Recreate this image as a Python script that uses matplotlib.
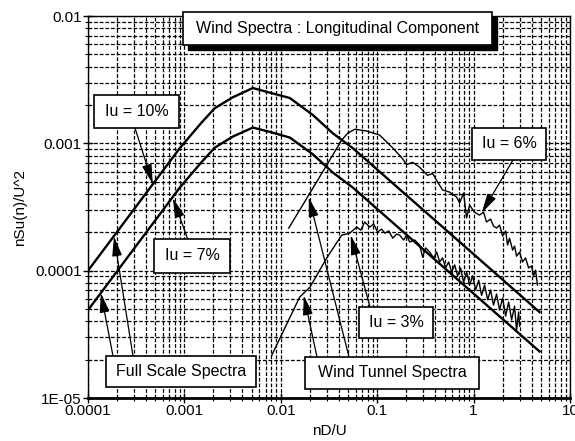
import matplotlib
matplotlib.use("Agg")
import matplotlib.pyplot as plt
from matplotlib.patches import Rectangle

plt.rcParams['font.family'] = ['Liberation Sans', 'DejaVu Sans']

# full scale spectra (smooth curves), Iu = 10% and Iu = 7%
fs_freq = [1.0e-4, 8.97e-4, 1.5e-3, 2.07e-3, 3.18e-3, 5.13e-3, 7.69e-3, 0.0124, 0.0215, 0.0346, 0.0557, 4.83]
fs_iu10 = [1.0e-4, 9.18e-4, 1.45e-3, 1.89e-3, 2.3e-3, 2.72e-3, 2.5e-3, 2.27e-3, 1.67e-3, 1.2e-3, 9.18e-4, 4.73e-5]
fs_iu7 = [4.9e-5, 4.5e-4, 7.1e-4, 9.26e-4, 1.13e-3, 1.33e-3, 1.23e-3, 1.11e-3, 8.2e-4, 5.9e-4, 4.5e-4, 2.32e-5]

# wind tunnel spectra, Iu = 6%
wt6_freq = [0.0121, 0.0225, 0.0428, 0.0494, 0.0585, 0.0778, 0.106, 0.145, 0.18, 0.202,
            0.233, 0.275, 0.333, 0.376, 0.423, 0.477, 0.564, 0.667, 0.716, 0.787,
            0.846, 0.91, 1.02, 1.15, 1.27, 1.36, 1.5, 1.61, 1.73, 1.86,
            2.0, 2.15, 2.25, 2.36, 2.54, 2.66, 2.79, 3.0, 3.22, 3.46,
            3.72, 3.99, 4.19, 4.39, 4.6]
wt6_val = [2.16e-4, 4.7e-4, 1.06e-3, 1.2e-3, 1.29e-3, 1.25e-3, 1.16e-3, 9.2e-4, 7.7e-4, 6.8e-4,
           7.1e-4, 6.5e-4, 5.6e-4, 5.8e-4, 4.97e-4, 4.3e-4, 4.14e-4, 3.78e-4, 3.4e-4, 4.07e-4,
           2.6e-4, 3.27e-4, 2.88e-4, 2.73e-4, 2.88e-4, 2.41e-4, 2.54e-4, 2.24e-4, 2.16e-4, 2.28e-4,
           1.87e-4, 2.05e-4, 1.59e-4, 1.8e-4, 1.45e-4, 1.56e-4, 1.3e-4, 1.4e-4, 1.17e-4, 1.26e-4,
           1.05e-4, 1.09e-4, 9.1e-5, 1.01e-4, 7.7e-5]

# wind tunnel spectra, Iu = 3%
wt3_freq = [8.07e-3, 0.0157, 0.02, 0.03, 0.0428, 0.0519, 0.0613, 0.0675, 0.0742, 0.0836,
            0.092, 0.101, 0.111, 0.12, 0.132, 0.145, 0.159, 0.171, 0.188, 0.202,
            0.217, 0.245, 0.275, 0.296, 0.318, 0.35, 0.385, 0.414, 0.445, 0.477,
            0.513, 0.551, 0.592, 0.636, 0.683, 0.733, 0.787, 0.846, 0.91, 0.977,
            1.05, 1.13, 1.21, 1.3, 1.4, 1.5, 1.61, 1.73, 1.86, 2.0,
            2.15, 2.31, 2.48, 2.66, 2.79, 2.93, 3.0]
wt3_val = [2.17e-5, 6.2e-5, 7.4e-5, 1.26e-4, 1.9e-4, 1.97e-4, 2.2e-4, 2.08e-4, 2.41e-4, 2.2e-4,
           2.32e-4, 2.01e-4, 2.12e-4, 1.97e-4, 2.05e-4, 1.8e-4, 1.94e-4, 1.9e-4, 1.74e-4, 1.9e-4,
           1.68e-4, 1.74e-4, 1.59e-4, 1.28e-4, 1.51e-4, 1.4e-4, 1.26e-4, 1.4e-4, 1.17e-4, 1.26e-4,
           1.05e-4, 1.17e-4, 9.75e-5, 1.11e-4, 9.1e-5, 1.05e-4, 8.1e-5, 9.75e-5, 7.7e-5, 9.1e-5,
           7.05e-5, 8.4e-5, 6.4e-5, 7.7e-5, 5.9e-5, 7.05e-5, 5.37e-5, 6.55e-5, 4.9e-5, 6.1e-5,
           4.4e-5, 5.67e-5, 4.1e-5, 5.27e-5, 3.4e-5, 4.73e-5, 3.67e-5]

x_ticks = [1e-4, 1e-3, 1e-2, 1e-1, 1, 10]
x_ticklabels = ['0.0001', '0.001', '0.01', '0.1', '1', '10']
y_ticks = [1e-5, 1e-4, 1e-3, 1e-2]
y_ticklabels = ['1E-05', '0.0001', '0.001', '0.01']

W, H = 575, 441


def fp(x, y):
    # pixel (from top-left) -> figure fraction
    return (x / W, 1 - y / H)


fig = plt.figure(figsize=(W / 100, H / 100), dpi=100)
ax = fig.add_axes([88 / W, 1 - 398 / H, (570 - 88) / W, (398 - 16) / H])
ax.set_xscale('log')
ax.set_yscale('log')
ax.set_xlim(1e-4, 10)
ax.set_ylim(1e-5, 1e-2)

ax.grid(True, which='both', color='black', linestyle=(0, (3, 1.5)), linewidth=0.9)
ax.set_axisbelow(True)

ax.plot(fs_freq, fs_iu10, color='black', lw=1.7)
ax.plot(fs_freq, fs_iu7, color='black', lw=1.7)
ax.plot(wt6_freq, wt6_val, color='black', lw=1.0)
ax.plot(wt3_freq, wt3_val, color='black', lw=1.0)

ax.set_xticks(x_ticks)
ax.set_xticklabels(x_ticklabels)
ax.set_yticks(y_ticks)
ax.set_yticklabels(y_ticklabels)
ax.tick_params(which='major', direction='inout', length=7, width=1, labelsize=11, pad=1)
ax.tick_params(which='minor', direction='inout', length=5, width=0.8)
ax.set_xlabel('nD/U', fontsize=11, labelpad=4)
ax.set_ylabel('nSu(n)/U^2', fontsize=11, labelpad=6)
ax.spines['bottom'].set_linewidth(2)
for s in ['left', 'top', 'right']:
    ax.spines[s].set_linewidth(1)


def box(x0, y0, x1, y1, text, shadow=0):
    if shadow:
        fig.add_artist(Rectangle(fp(x0 + shadow, y1 + shadow), (x1 - x0) / W, (y1 - y0) / H,
                                 facecolor='black', edgecolor='black', transform=fig.transFigure))
    fig.add_artist(Rectangle(fp(x0, y1), (x1 - x0) / W, (y1 - y0) / H,
                             facecolor='white', edgecolor='black', lw=1.2, transform=fig.transFigure))
    cx, cy = fp((x0 + x1) / 2, (y0 + y1) / 2)
    fig.text(cx, cy, text, ha='center', va='center', fontsize=11.5)


def arrow(tip, start):
    ax.annotate('', xy=tip, xycoords='data', xytext=fp(*start), textcoords='figure fraction',
                arrowprops=dict(arrowstyle='-|>,head_length=1.2,head_width=0.3', color='black',
                                lw=0.9, shrinkA=0, shrinkB=0, mutation_scale=10))


arrow((4.7e-4, 4.8e-4), (135, 128))
arrow((7.6e-4, 3.72e-4), (188, 240))
arrow((1.36e-4, 6.7e-5), (113, 356))
arrow((1.86e-4, 1.86e-4), (133, 356))
arrow((0.0195, 3.78e-4), (349, 357))
arrow((0.0173, 6.4e-5), (317, 357))
arrow((0.0531, 1.9e-4), (370, 307))
arrow((1.21, 2.83e-4), (513, 160))

box(183, 12, 492, 45, 'Wind Spectra : Longitudinal Component', shadow=5)
box(94, 95, 179, 128, 'Iu = 10%')
box(154, 239, 230, 273, 'Iu = 7%')
box(106, 356, 256, 387, 'Full Scale Spectra')
box(305, 357, 479, 389, 'Wind Tunnel Spectra')
box(359, 307, 433, 338, 'Iu = 3%')
box(472, 128, 546, 160, 'Iu = 6%')

fig.savefig('out.png', dpi=100)
